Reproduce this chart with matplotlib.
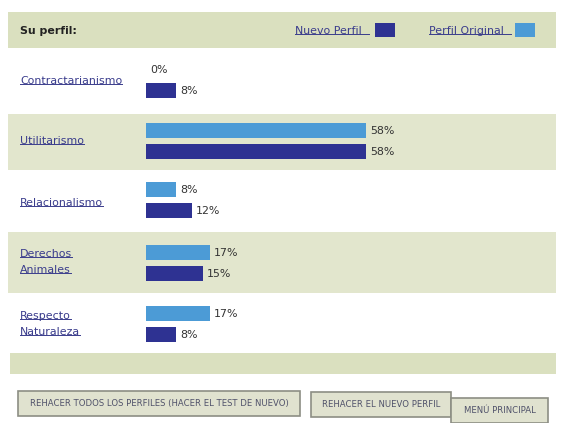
import numpy as np
import matplotlib.pyplot as plt
from matplotlib.patches import Rectangle

# Data
categories = ['Contractarianismo', 'Utilitarismo', 'Relacionalismo',
              'Derechos\nAnimales', 'Respecto\nNaturaleza']
original = [0, 58, 8, 17, 17]   # Perfil Original (light)
nuevo = [8, 58, 12, 15, 8]      # Nuevo Perfil (dark)
buttons = ['REHACER TODOS LOS PERFILES (HACER EL TEST DE NUEVO)',
           'REHACER EL NUEVO PERFIL', 'MENÚ PRINCIPAL']

DARK = '#2e3292'
LIGHT = '#4c9bd6'
BAND = '#e2e6cd'
HEAD = '#dae0bf'
LINK = '#3a3c8c'
FS = 7.9

W, H = 566, 423
fig = plt.figure(figsize=(W / 100, H / 100), dpi=100)
fig.patch.set_facecolor('white')

# background axes in pixel units
bg = fig.add_axes([0, 0, 1, 1])
bg.set_xlim(0, W)
bg.set_ylim(H, 0)
bg.axis('off')

# bar axes: x in percent, 0% at px 146, 58% at px 366
px_per_pct = 220 / 58
x0 = 146
ax = fig.add_axes([0, 0, 1, 1])
ax.set_xlim(-x0 / px_per_pct, (W - x0) / px_per_pct)
ax.set_ylim(H, 0)
ax.axis('off')
ax.patch.set_alpha(0)

# bands
bg.add_patch(Rectangle((8, 12), 548, 36, color=HEAD, lw=0))
row_tops = [48, 114, 170, 232, 293]
row_bots = [114, 170, 232, 293, 353]
for i, (t, b) in enumerate(zip(row_tops, row_bots)):
    if i % 2 == 1:
        bg.add_patch(Rectangle((8, t), 548, b - t, color=BAND, lw=0))
bg.add_patch(Rectangle((10, 353), 546, 21, color=HEAD, lw=0))

underlines = []


def link(x, y, s):
    # one text per line so each line gets its own underline
    lines = s.split('\n')
    step = 16
    start = y - step * (len(lines) - 1) / 2
    for k, ln in enumerate(lines):
        t = bg.text(x, start + k * step, ln, color=LINK, fontsize=FS,
                    va='center', ha='left')
        underlines.append(t)


# header
bg.text(20, 31, 'Su perfil:', fontsize=FS, fontweight='bold', color='#222222',
        va='center')
link(295, 31, 'Nuevo Perfil  ')
bg.add_patch(Rectangle((375, 23), 20, 14, color=DARK, lw=0))
link(429, 31, 'Perfil Original  ')
bg.add_patch(Rectangle((515, 23), 20, 14, color=LIGHT, lw=0))

# bars
light_y = np.array([62, 123, 182, 245, 306])
bar_h = 15.5
gap = 21
ax.barh(light_y + bar_h / 2, original, height=bar_h, left=0, color=LIGHT,
        align='center')
ax.barh(light_y + gap + bar_h / 2, nuevo, height=bar_h, left=0, color=DARK,
        align='center')
for y, v in zip(light_y, original):
    ax.text(v + 1, y + bar_h / 2, f'{v}%', fontsize=FS,
            color='#333333', va='center')
for y, v in zip(light_y, nuevo):
    ax.text(v + 1, y + gap + bar_h / 2, f'{v}%', fontsize=FS,
            color='#333333', va='center')

# category labels
label_dy = [19, 18, 21, 17, 18]
for y, c, d in zip(light_y, categories, label_dy):
    link(20, y + d, c)

# buttons
btn_boxes = [(18, 391, 282, 25), (311, 392, 140, 25), (451, 398, 97, 25)]
for (bx, by, bw, bh), label in zip(btn_boxes, buttons):
    bg.add_patch(Rectangle((bx, by), bw, bh, facecolor='#e0e2cf',
                           edgecolor='#8c8e84', lw=1.2))
    bg.text(bx + bw / 2, by + bh / 2, label, fontsize=6.1, color='#50526a',
            ha='center', va='center')

# underline the link texts
fig.canvas.draw()
r = fig.canvas.get_renderer()
inv = bg.transData.inverted()
for t in underlines:
    bb = t.get_window_extent(r)
    (xa, ya), (xb, yb) = inv.transform([(bb.x0, bb.y0), (bb.x1, bb.y1)])
    bg.plot([xa, xb], [ya - 2, ya - 2], color=LINK, lw=0.7)

fig.savefig('out.png', dpi=100)
